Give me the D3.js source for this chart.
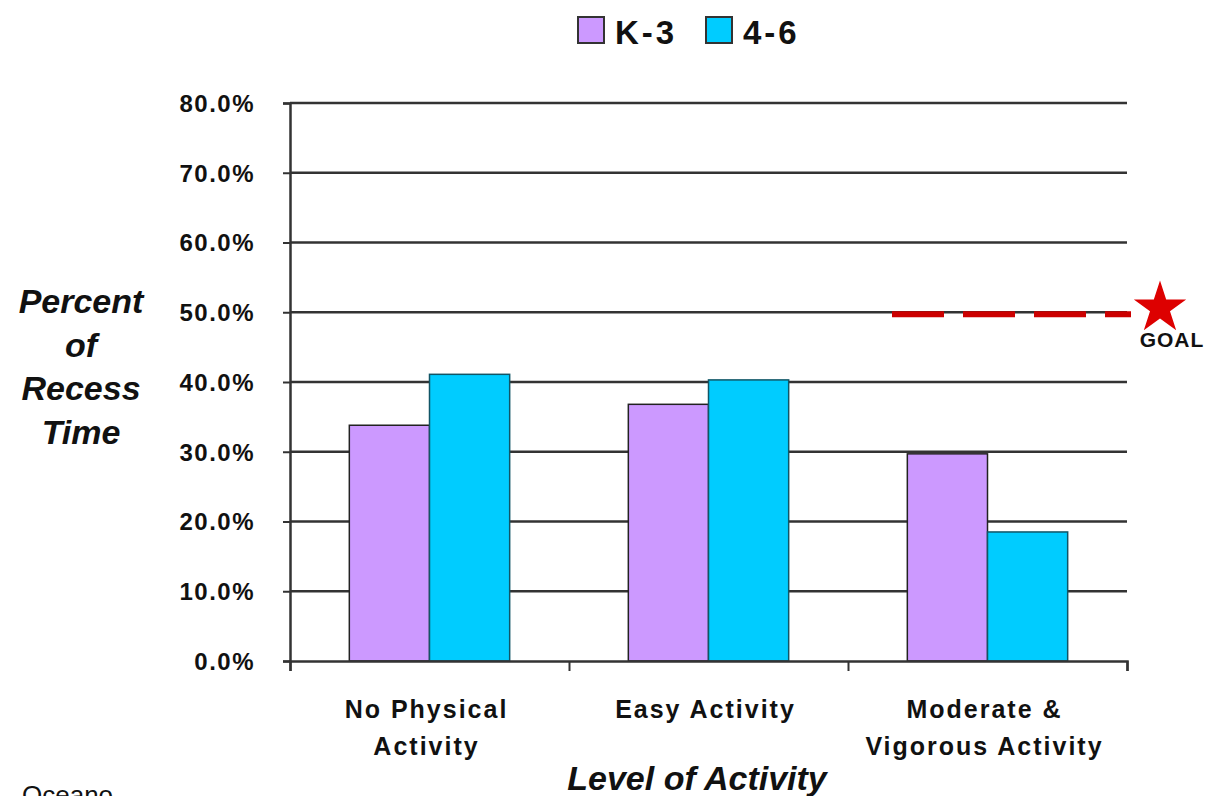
<!DOCTYPE html>
<html>
<head>
<meta charset="utf-8">
<script src="https://cdn.jsdelivr.net/npm/d3@7"></script>
<style>
  body { margin: 0; background: #fff; }
  text { font-family: "Liberation Sans", Arial, sans-serif; }
</style>
</head>
<body>
<svg id="chart" width="1215" height="796"></svg>
<script>
var categories = [["No Physical", "Activity"], ["Easy Activity"], ["Moderate &", "Vigorous Activity"]],
    seriesNames = ["K-3", "4-6"],
    k3 = [0.338, 0.368, 0.297],
    g46 = [0.411, 0.403, 0.185],
    yTicks = [0, 0.1, 0.2, 0.3, 0.4, 0.5, 0.6, 0.7, 0.8],
    goal = 0.5;

var colors = ["#cc99ff", "#00ccff"];

var svg = d3.select("#chart"),
    pLeft = 290, pRight = 1127, pTop = 103, pBottom = 661;

var x = d3.scaleBand().domain(d3.range(categories.length)).range([pLeft, pRight]).padding(0);
var xs = d3.scaleBand().domain(d3.range(seriesNames.length)).range([0, x.bandwidth()]).paddingInner(0).paddingOuter(0.74);
var y = d3.scaleLinear().domain([0, 0.8]).range([pBottom, pTop]);

// grid
svg.append("g").selectAll("line").data(yTicks.slice(1)).enter().append("line")
    .attr("x1", pLeft).attr("x2", pRight)
    .attr("y1", function(d) { return y(d); }).attr("y2", function(d) { return y(d); })
    .attr("stroke", "#333").attr("stroke-width", 2.5);

// bars
var data = [];
categories.forEach(function(c, i) {
  data.push({cat: i, s: 0, v: k3[i]});
  data.push({cat: i, s: 1, v: g46[i]});
});
svg.append("g").selectAll("rect").data(data).enter().append("rect")
    .attr("x", function(d) { return x(d.cat) + xs(d.s); })
    .attr("width", xs.bandwidth())
    .attr("y", function(d) { return y(d.v); })
    .attr("height", function(d) { return pBottom - y(d.v); })
    .attr("fill", function(d) { return colors[d.s]; })
    .attr("stroke", function(d) { return d.s ? "#115566" : "#222"; })
    .attr("stroke-width", 1.5);

// y axis
var yAxis = svg.append("g").attr("transform", "translate(" + pLeft + ",0)")
    .call(d3.axisLeft(y).tickValues(yTicks).tickSize(7).tickPadding(28)
      .tickFormat(function(d) { return (d * 100).toFixed(1) + "%"; }));
yAxis.select(".domain").attr("stroke", "#333").attr("stroke-width", 2.5);
yAxis.selectAll(".tick line").attr("stroke", "#333").attr("stroke-width", 2);
yAxis.selectAll(".tick text").attr("font-size", 24).attr("font-weight", "bold")
    .attr("fill", "#111").attr("letter-spacing", 1.5).attr("dy", "0.35em");

// x axis
var xEdge = d3.scaleLinear().domain([0, categories.length]).range([pLeft, pRight]);
var xAxis = svg.append("g").attr("transform", "translate(0," + pBottom + ")")
    .call(d3.axisBottom(xEdge).tickValues(d3.range(categories.length + 1)).tickSize(10).tickFormat(""));
xAxis.select(".domain").attr("stroke", "#333").attr("stroke-width", 2.5);
xAxis.selectAll(".tick line").attr("stroke", "#333").attr("stroke-width", 2);

// category labels
var cl = svg.append("g").selectAll("text").data(categories).enter().append("text")
    .attr("x", function(d, i) { return x(i) + x.bandwidth() / 2 - 3; })
    .attr("y", 718)
    .attr("text-anchor", "middle")
    .attr("font-size", 25).attr("font-weight", "bold").attr("letter-spacing", 2).attr("fill", "#111");
cl.selectAll("tspan").data(function(d) { return d; }).enter().append("tspan")
    .attr("x", function() { return d3.select(this.parentNode).attr("x"); })
    .attr("dy", function(d, i) { return i ? 37 : 0; })
    .text(function(d) { return d; });

// axis titles
var yt = svg.append("text").attr("x", 81).attr("y", 313).attr("text-anchor", "middle")
    .attr("font-size", 34).attr("font-weight", "bold").attr("font-style", "italic").attr("fill", "#111");
["Percent", "of", "Recess", "Time"].forEach(function(t, i) {
  yt.append("tspan").attr("x", 81).attr("dy", i ? 43.5 : 0).text(t);
});
svg.append("text").attr("x", 697).attr("y", 790).attr("text-anchor", "middle")
    .attr("font-size", 34).attr("font-weight", "bold").attr("font-style", "italic").attr("fill", "#111")
    .text("Level of Activity");

// goal line
svg.append("line").attr("x1", 892).attr("x2", 1131)
    .attr("y1", y(goal) + 2).attr("y2", y(goal) + 2)
    .attr("stroke", "#cc0000").attr("stroke-width", 6).attr("stroke-dasharray", "52,19");
var star = d3.symbol().type(d3.symbolStar).size(850);
svg.append("path").attr("d", star()).attr("transform", "translate(1160,308)").attr("fill", "#dd0000");
svg.append("text").attr("x", 1172).attr("y", 347).attr("text-anchor", "middle")
    .attr("font-size", 21).attr("font-weight", "bold").attr("letter-spacing", 1).attr("fill", "#111").text("GOAL");

// legend
var leg = svg.append("g").selectAll("g").data(seriesNames).enter().append("g")
    .attr("transform", function(d, i) { return "translate(" + (578 + i * 128) + ",17)"; });
leg.append("rect").attr("width", 26).attr("height", 26)
    .attr("fill", function(d, i) { return colors[i]; })
    .attr("stroke", "#333").attr("stroke-width", 2);
leg.append("text").attr("x", 37).attr("y", 27).attr("font-size", 33).attr("font-weight", "bold")
    .attr("letter-spacing", 3).attr("fill", "#111").text(function(d) { return d; });

svg.append("text").attr("x", 22).attr("y", 804).attr("font-size", 26).attr("fill", "#111").text("Oceano");
</script>
</body>
</html>
